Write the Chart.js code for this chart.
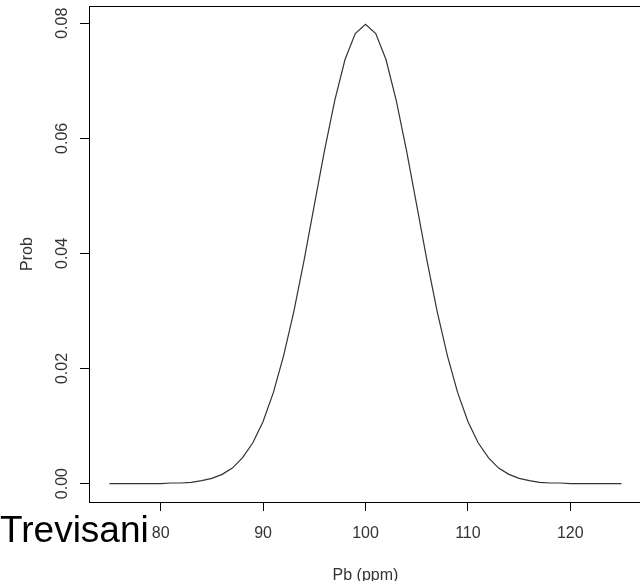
<!DOCTYPE html>
<html>
<head>
<meta charset="utf-8">
<script src="https://cdn.jsdelivr.net/npm/chart.js@4.4.1/dist/chart.umd.min.js"></script>
<style>
  html, body { margin:0; padding:0; background:#fff; width:640px; height:581px; overflow:hidden; }
  #wrap { position:absolute; left:0; top:0; width:642px; height:585px; }
</style>
</head>
<body>
<div id="wrap"><canvas id="line-chart" width="642" height="585"></canvas></div>
<script>
var pb = [75, 76, 77, 78, 79, 80, 81, 82, 83, 84, 85, 86, 87, 88, 89, 90, 91, 92, 93, 94, 95, 96, 97, 98, 99, 100,
          101, 102, 103, 104, 105, 106, 107, 108, 109, 110, 111, 112, 113, 114, 115, 116, 117, 118, 119, 120, 121, 122, 123, 124, 125];
var prob = [0.0000, 0.0000, 0.0000, 0.0000, 0.0000, 0.0000, 0.0001, 0.0001, 0.0002, 0.0005, 0.0009, 0.0016, 0.0027, 0.0045, 0.0071,
            0.0108, 0.0158, 0.0222, 0.0299, 0.0388, 0.0484, 0.0579, 0.0666, 0.0737, 0.0782, 0.0798,
            0.0782, 0.0737, 0.0666, 0.0579, 0.0484, 0.0388, 0.0299, 0.0222, 0.0158, 0.0108,
            0.0071, 0.0045, 0.0027, 0.0016, 0.0009, 0.0005, 0.0002, 0.0001, 0.0001, 0.0000, 0.0000, 0.0000, 0.0000, 0.0000, 0.0000];
var xTicks = [80, 90, 100, 110, 120];
var yTicks = [0.00, 0.02, 0.04, 0.06, 0.08];

var fnt = '"Liberation Sans", Arial, sans-serif';

// box round the plot + the name at bottom left
var frame = {
  id: 'frame',
  afterDraw: function(chart) {
    var c = chart.ctx, a = chart.chartArea;
    c.save();
    c.strokeStyle = '#000';
    c.lineWidth = 1;
    c.strokeRect(Math.round(a.left) + 0.5, Math.round(a.top) + 0.5, Math.round(a.right - a.left), Math.round(a.bottom - a.top));
    c.fillStyle = '#000';
    c.font = '37px ' + fnt;
    c.textBaseline = 'alphabetic';
    c.fillText('Trevisani', 0, 542);
    c.restore();
  }
};

function noPad(s) {
  s.paddingTop = 0; s.paddingBottom = 0; s.paddingLeft = 0; s.paddingRight = 0;
}

new Chart(document.getElementById("line-chart"), {
  type: 'line',
  data: {
    datasets: [{
      data: pb.map(function(v, i) { return {x: v, y: prob[i]}; }),
      borderColor: '#333',
      borderWidth: 1.2,
      pointRadius: 0,
      tension: 0,
      fill: false
    }]
  },
  options: {
    responsive: false,
    animation: false,
    layout: { padding: { left: 18, top: 6, right: 0, bottom: 0 } },
    plugins: { legend: { display: false }, tooltip: { enabled: false } },
    scales: {
      x: {
        type: 'linear',
        min: 73, max: 127,
        afterFit: function(s) { s.height = 83; noPad(s); },
        afterBuildTicks: function(s) { s.ticks = xTicks.map(function(v) { return {value: v}; }); },
        border: { display: false },
        grid: { display: true, drawOnChartArea: false, drawTicks: true, tickLength: 9, color: '#000' },
        ticks: { color: '#333', font: { family: fnt, size: 16 }, padding: 13, maxRotation: 0,
                 callback: function(v) { return String(v); } },
        title: { display: true, text: 'Pb (ppm)', color: '#333', font: { family: fnt, size: 16 }, padding: 0 }
      },
      y: {
        min: -0.0032, max: 0.083,
        afterFit: function(s) { s.width = 71; noPad(s); },
        afterBuildTicks: function(s) { s.ticks = yTicks.map(function(v) { return {value: v}; }); },
        border: { display: false },
        grid: { display: true, drawOnChartArea: false, drawTicks: true, tickLength: 9, color: '#000' },
        ticks: { color: '#333', font: { family: fnt, size: 16 }, padding: 2, minRotation: 90, maxRotation: 90,
                 crossAlign: 'center', callback: function(v) { return v.toFixed(2); } },
        title: { display: true, text: 'Prob', color: '#333', font: { family: fnt, size: 16 }, padding: 0 }
      }
    }
  },
  plugins: [frame]
});
</script>
</body>
</html>
